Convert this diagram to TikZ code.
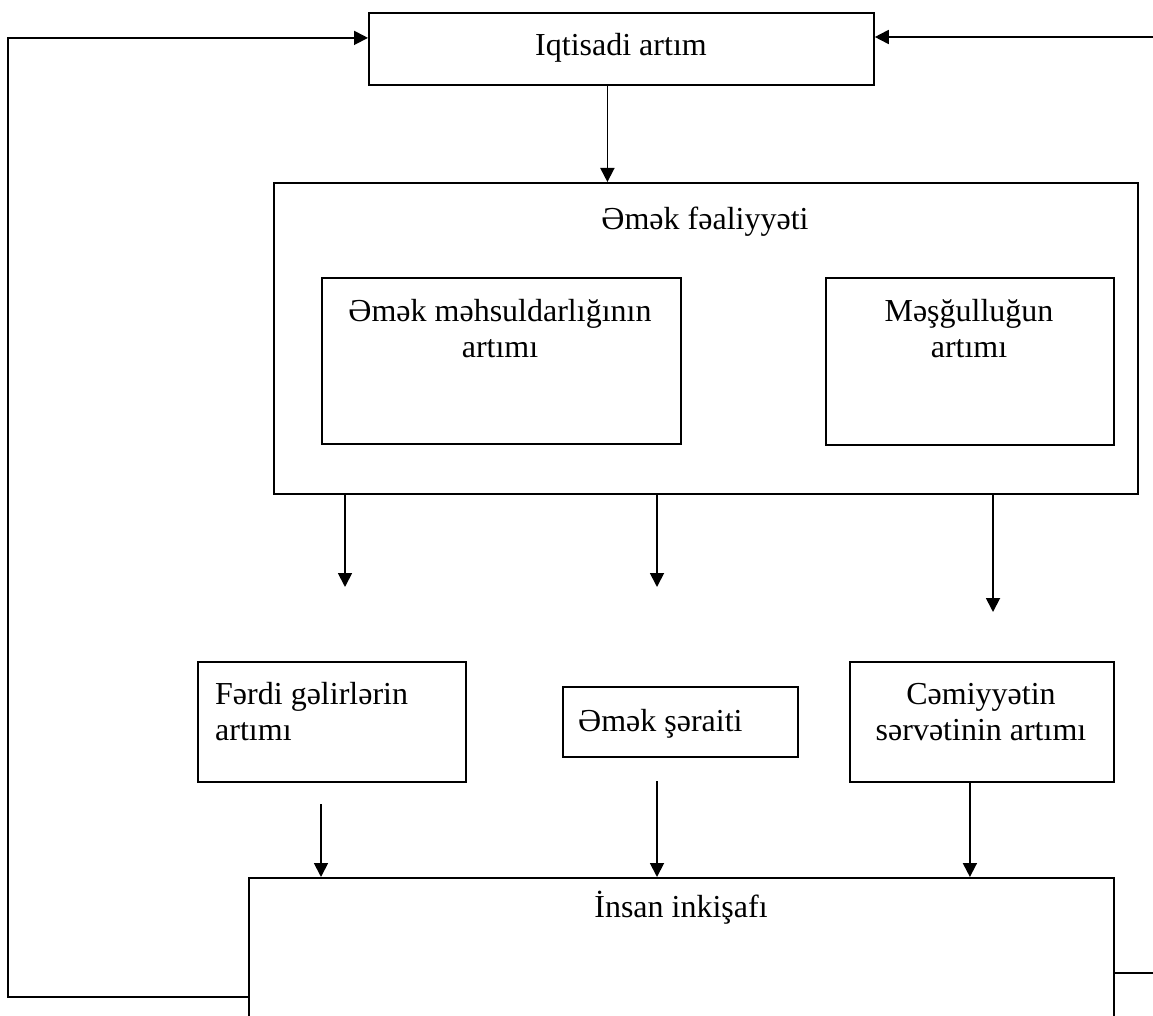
\documentclass[tikz,border=0pt]{standalone}
\usepackage{fontspec}
\setmainfont{Liberation Serif}
\usetikzlibrary{arrows.meta}
\begin{document}
\begin{tikzpicture}[x=1pt,y=-1pt,>={Triangle[length=14pt,width=14pt]},
  box/.style={draw,line width=1.8pt,anchor=north west,inner sep=0pt},
  txt/.style={font=\fontsize{32}{36}\selectfont,inner sep=0pt,anchor=base},
  link/.style={->,line width=1.8pt}]
  \useasboundingbox (0,0) rectangle (1153,1016);
  \clip (0,0) rectangle (1153,1016);
  \node[box,minimum width=505,minimum height=72] (iqt) at (368,12) {};
  \node[box,minimum width=864,minimum height=311] (fa) at (273,182) {};
  \node[box,minimum width=359,minimum height=166] (mh) at (321,277) {};
  \node[box,minimum width=288,minimum height=167] (ms) at (825,277) {};
  \node[box,minimum width=268,minimum height=120] (fg) at (197,661) {};
  \node[box,minimum width=235,minimum height=70] (sr) at (562,686) {};
  \node[box,minimum width=264,minimum height=120] (cs) at (849,661) {};
  \node[box,minimum width=865,minimum height=200] (ins) at (248,877) {};
  \node[txt] (iqt-t) at (621,56) {Iqtisadi artım};
  \node[txt] (fa-t) at (705,230) {Əmək fəaliyyəti};
  \node[txt,align=center] (mh-t) at (500,357) {Əmək məhsuldarlığının\\artımı};
  \node[txt,align=center] (ms-t) at (969,357) {Məşğulluğun\\artımı};
  \node[txt,align=left,anchor=base west] (fg-t) at (215,740) {Fərdi gəlirlərin\\artımı};
  \node[txt,anchor=base west] (sr-t) at (578,731) {Əmək şəraiti};
  \node[txt,align=center] (cs-t) at (981,740) {Cəmiyyətin\\sərvətinin artımı};
  \node[txt] (ins-t) at (681,917) {İnsan inkişafı};
  \coordinate (a1) at (345,587);
  \coordinate (a2) at (657,587);
  \coordinate (a3) at (993,612);
  \coordinate (b1) at (321,804);
  \coordinate (b2) at (657,781);
  \coordinate (lft) at (8,997);
  \coordinate (rtop) at (1160,37);
  \coordinate (rbot) at (1160,973);
  \draw[link] ([xshift=-14pt]iqt.south) -- ([xshift=-14pt]iqt.south |- fa.north);
  \draw[link] (fa.south -| a1) -- (a1);
  \draw[link] (fa.south -| a2) -- (a2);
  \draw[link] (fa.south -| a3) -- (a3);
  \draw[link] (b1) -- (ins.north -| b1);
  \draw[link] (b2) -- (ins.north -| b2);
  \draw[link] ([xshift=-12pt]cs.south) -- ([xshift=-12pt]cs.south |- ins.north);
  \draw[link] (ins.west |- lft) -- (lft) |- ([yshift=11pt]iqt.west);
  \draw[link] (rtop) -- (iqt.east |- rtop);
  \draw[line width=1.8pt] (ins.east |- rbot) -- (rbot);
\end{tikzpicture}
\end{document}
